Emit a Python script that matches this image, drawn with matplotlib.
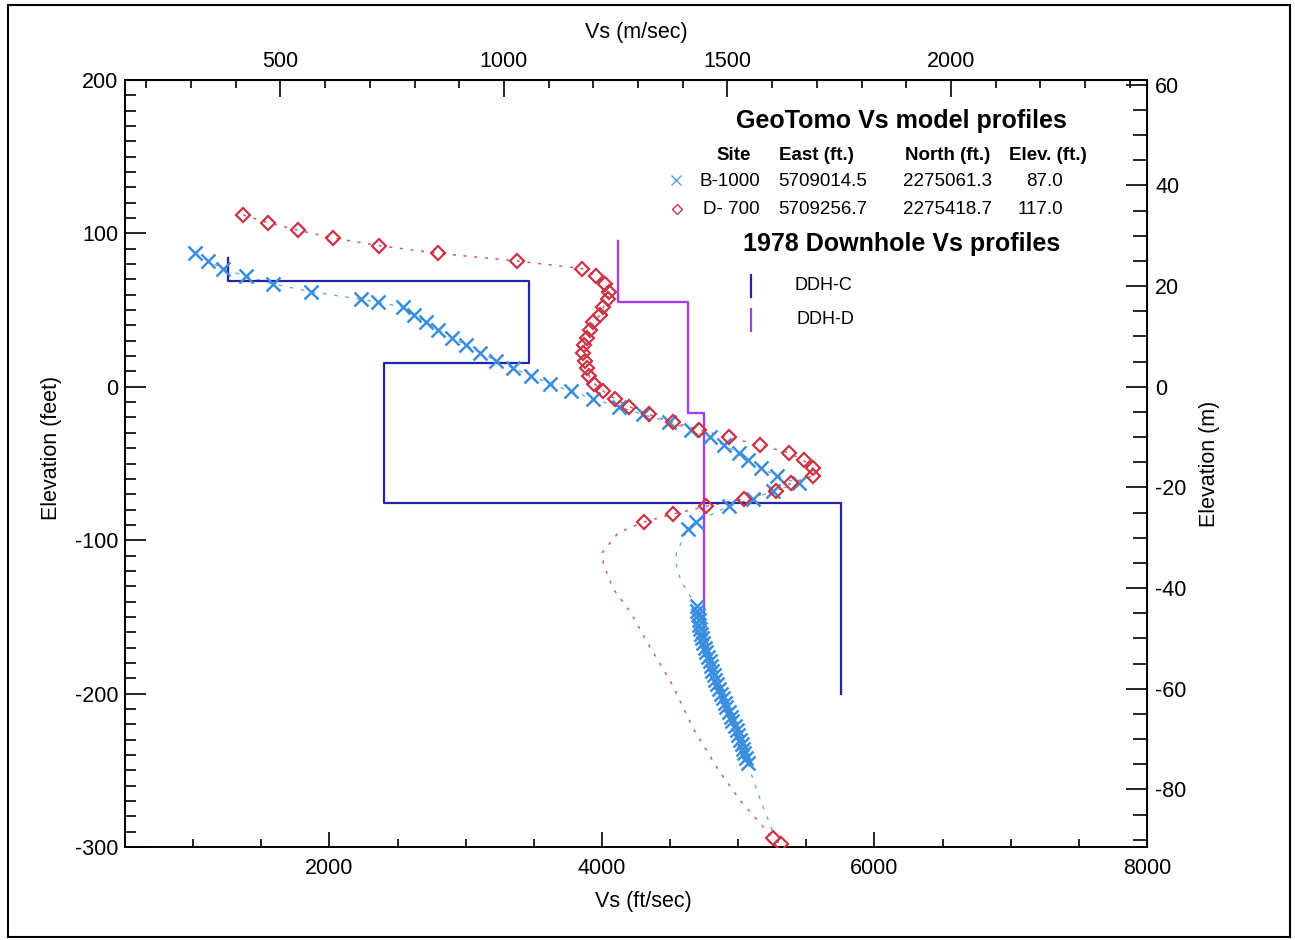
import matplotlib
matplotlib.use('Agg')
import matplotlib.pyplot as plt
from matplotlib.lines import Line2D
from matplotlib.patches import Rectangle
from matplotlib.ticker import MultipleLocator

plt.rcParams['font.family'] = ['Liberation Sans', 'DejaVu Sans']
plt.rcParams['axes.unicode_minus'] = False

FT_PER_M = 3.28084

# GeoTomo model B-1000 : marked samples (Vs ft/sec, elevation ft)
b1000_vs = [1014, 1110, 1220, 1389, 1587, 1866, 2234, 2358, 2542, 2623, 2711, 2799,
            2902, 3005, 3108, 3225, 3350, 3482, 3622, 3776, 3938, 4122, 4298, 4489,
            4650, 4790, 4893, 5003, 5069, 5165, 5282, 5444, 5253, 5106, 4930, 4687, 4628]
b1000_elev = [87, 82, 77, 72, 67, 62, 57, 55, 52, 47, 42, 37,
              32, 27, 22, 17, 12, 7, 2, -3, -8, -13, -18, -23,
              -28, -33, -38, -43, -48, -53, -58, -63, -68, -73, -78, -88, -93]
# unmarked part of the B-1000 curve
b1000_gap_vs = [4548, 4540, 4577, 4650]
b1000_gap_elev = [-108, -114, -126, -137]
# deep marked samples of B-1000
b1000_deep_vs = [4694, 4699, 4704, 4709, 4714, 4719, 4724, 4733, 4743, 4753, 4765, 4778,
                 4790, 4800, 4810, 4819, 4832, 4846, 4860, 4873, 4886, 4900, 4914, 4929,
                 4944, 4958, 4973, 4988, 5000, 5013, 5025, 5035, 5045, 5054, 5069]
b1000_deep_elev = [-143, -146, -149, -152, -155, -158, -161, -164, -167, -170, -173, -176,
                   -179, -182, -185, -188, -191, -194, -197, -200, -203, -206, -209, -212,
                   -215, -218, -221, -224, -227, -230, -233, -236, -239, -242, -245]
b1000_tail_vs = [5106, 5165, 5223, 5260]
b1000_tail_elev = [-255, -270, -283, -292]

# GeoTomo model D-700
d700_vs = [1367, 1550, 1771, 2028, 2366, 2799, 3380, 3857, 3960, 4026, 4055, 4041,
           4011, 3989, 3938, 3916, 3894, 3872, 3864, 3879, 3894, 3908, 3945, 4011,
           4099, 4202, 4342, 4518, 4709, 4930, 5157, 5370, 5480, 5547, 5547, 5385,
           5275, 5040, 4761, 4518, 4312]
d700_elev = [112, 107, 102, 97, 92, 87, 82, 77, 72, 67, 62, 57,
             52, 47, 42, 37, 32, 27, 22, 17, 12, 7, 2, -3,
             -8, -13, -18, -23, -28, -33, -38, -43, -48, -53, -58, -63,
             -68, -73, -78, -83, -88]
d700_gap_vs = [4121, 4004, 4011, 4085, 4210, 4342, 4503, 4672, 4849, 5018, 5165]
d700_gap_elev = [-95, -108, -116, -132, -147, -168, -192, -223, -249, -270, -285]
d700_deep_vs = [5253, 5311]
d700_deep_elev = [-294, -298]

# 1978 downhole step profiles
ddhc_vs = [1257, 1257, 3468, 3468, 2403, 2403, 5752, 5752]
ddhc_elev = [84, 69, 69, 15.6, 15.6, -76, -76, -200]
ddhd_vs = [4121, 4121, 4628, 4628, 4746, 4746]
ddhd_elev = [95, 55, 55, -17, -17, -162]

sites = ['B-1000', 'D- 700']
east = ['5709014.5', '5709256.7']
north = ['2275061.3', '2275418.7']
site_elev = ['87.0', '117.0']

BLUE = '#3a8ee0'
RED = '#cc3344'
NAVY = '#2424a8'
PURPLE = '#a63ee6'

W, H = 1295, 940
fig = plt.figure(figsize=(W / 100, H / 100), dpi=100)
ax = fig.add_axes([125 / W, 1 - 847 / H, 1022 / W, 767 / H])

# model curves
ax.plot(b1000_vs + b1000_gap_vs + b1000_deep_vs + b1000_tail_vs,
        b1000_elev + b1000_gap_elev + b1000_deep_elev + b1000_tail_elev,
        color='#5aa5e0', lw=0.9, ls=(0, (3, 6)), zorder=2)
ax.plot(d700_vs + d700_gap_vs + d700_deep_vs,
        d700_elev + d700_gap_elev + d700_deep_elev,
        color='#d05a6a', lw=1.1, ls=(0, (2, 5)), zorder=2)

ax.plot(ddhc_vs, ddhc_elev, color=NAVY, lw=1.6, zorder=3)
ax.plot(ddhd_vs, ddhd_elev, color=PURPLE, lw=1.7, zorder=3)

ax.plot(b1000_vs + b1000_deep_vs, b1000_elev + b1000_deep_elev, ls='none',
        marker='x', ms=10.5, mew=1.8, color=BLUE, zorder=4)
ax.plot(d700_vs + d700_deep_vs, d700_elev + d700_deep_elev, ls='none',
        marker='D', ms=7, mew=1.6, mfc='none', mec=RED, zorder=4)

ax.set_xlim(500, 8000)
ax.set_ylim(-300, 200)
ax.xaxis.set_major_locator(MultipleLocator(2000))
ax.xaxis.set_minor_locator(MultipleLocator(500))
ax.yaxis.set_major_locator(MultipleLocator(100))
ax.yaxis.set_minor_locator(MultipleLocator(10))
for s in ax.spines.values():
    s.set_linewidth(1.4)
ax.tick_params(axis='x', which='major', direction='in', length=11, width=1.2, labelsize=15.5, pad=8)
ax.tick_params(axis='x', which='minor', direction='in', length=6, width=1.2)
ax.tick_params(axis='y', which='major', direction='in', length=15, width=1.2, labelsize=15.5, pad=5)
ax.tick_params(axis='y', which='minor', direction='in', length=8, width=1.2)

ax.set_xlabel('Vs (ft/sec)', fontsize=15.5)
ax.xaxis.set_label_coords(0.507, -0.058)
ax.set_ylabel('Elevation (feet)', fontsize=15.5)
ax.yaxis.set_label_coords(-0.062, 0.52)

top = ax.secondary_xaxis('top', functions=(lambda v: v / FT_PER_M, lambda v: v * FT_PER_M))
top.xaxis.set_major_locator(MultipleLocator(500))
top.xaxis.set_minor_locator(MultipleLocator(100))
top.tick_params(which='major', direction='in', length=12, width=1.2, labelsize=15.5, pad=6)
top.tick_params(which='minor', direction='in', length=6, width=1.2)
top.set_xlabel('Vs (m/sec)', fontsize=15.5, labelpad=9)

right = ax.secondary_yaxis('right', functions=(lambda e: e / FT_PER_M, lambda e: e * FT_PER_M))
right.yaxis.set_major_locator(MultipleLocator(20))
right.yaxis.set_minor_locator(MultipleLocator(5))
right.tick_params(which='major', direction='in', length=15, width=1.2, labelsize=15.5, pad=6)
right.tick_params(which='minor', direction='in', length=10, width=1.2)
right.set_ylabel('Elevation (m)', fontsize=15.5, labelpad=9)

# legend block, built by hand
def fx(px):
    return px / W

def fy(py):
    return 1 - py / H

fig.text(fx(901), fy(121), 'GeoTomo Vs model profiles', fontsize=18, fontweight='bold',
         ha='center', va='center')
for label, cx in zip(['Site', 'East (ft.)', 'North (ft.)', 'Elev. (ft.)'], [734, 816, 948, 1048]):
    fig.text(fx(cx), fy(155), label, fontsize=13.5, fontweight='bold', ha='center', va='center')
for i, py in enumerate([181, 209]):
    fig.text(fx(760), fy(py), sites[i], fontsize=13.5, ha='right', va='center')
    fig.text(fx(778), fy(py), east[i], fontsize=13.5, ha='left', va='center')
    fig.text(fx(903), fy(py), north[i], fontsize=13.5, ha='left', va='center')
    fig.text(fx(1063), fy(py), site_elev[i], fontsize=13.5, ha='right', va='center')
fig.add_artist(Line2D([fx(676)], [fy(180)], ls='none', marker='x', ms=7, mew=1.0, color='#5aa5e0'))
fig.add_artist(Line2D([fx(677)], [fy(209)], ls='none', marker='D', ms=5, mew=1.0,
                      mfc='none', mec=RED))
fig.text(fx(902), fy(244), '1978 Downhole Vs profiles', fontsize=18, fontweight='bold',
         ha='center', va='center')
fig.add_artist(Line2D([fx(751), fx(751)], [fy(275), fy(297)], color=NAVY, lw=1.6))
fig.text(fx(795), fy(286), 'DDH-C', fontsize=13, ha='left', va='center')
fig.add_artist(Line2D([fx(751), fx(751)], [fy(309), fy(331)], color=PURPLE, lw=1.6))
fig.text(fx(796), fy(319), 'DDH-D', fontsize=13, ha='left', va='center')

# outer frame
fig.add_artist(Rectangle((fx(8), fy(937)), fx(1282), 932 / H, transform=fig.transFigure,
                         fill=False, ec='black', lw=1.5))

fig.savefig('out.png', dpi=100)
